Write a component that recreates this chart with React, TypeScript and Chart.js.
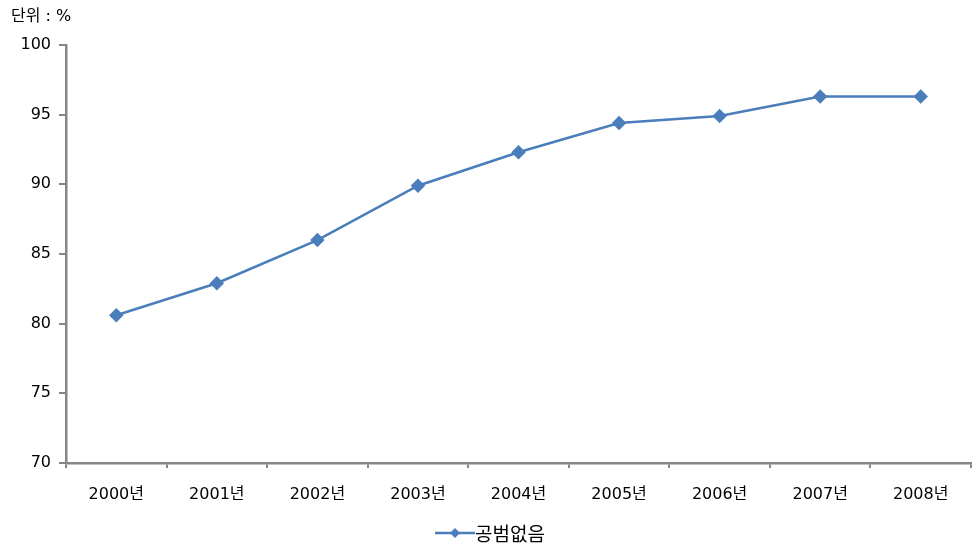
import React, { useEffect, useRef } from "react";
import { Chart, registerables } from "chart.js";
Chart.register(...registerables);

const years = ["2000년", "2001년", "2002년", "2003년", "2004년", "2005년", "2006년", "2007년", "2008년"];
const values = [80.6, 82.9, 86.0, 89.9, 92.3, 94.4, 94.9, 96.3, 96.3];
const seriesName = "공범없음";
const unitLabel = "단위 : %";

const FONT = "'DejaVu Sans', 'Noto Sans CJK KR', sans-serif";
const KFONT = "'Noto Sans CJK KR', sans-serif";
const LINE = "#4A7EBB";
const AXIS = "#868686";

const overlay = {
  id: "overlay",
  afterDraw(chart: any) {
    const ctx = chart.ctx;
    ctx.save();
    ctx.fillStyle = "#000";
    ctx.font = `16px ${FONT}`;
    ctx.textBaseline = "middle";
    ctx.textAlign = "left";
    ctx.fillText(unitLabel, 11, 17);
    // legend
    const cx = 455, cy = 533;
    ctx.strokeStyle = LINE;
    ctx.lineWidth = 2.5;
    ctx.beginPath();
    ctx.moveTo(cx - 20, cy);
    ctx.lineTo(cx + 20, cy);
    ctx.stroke();
    ctx.fillStyle = LINE;
    ctx.beginPath();
    ctx.moveTo(cx, cy - 5);
    ctx.lineTo(cx + 5, cy);
    ctx.lineTo(cx, cy + 5);
    ctx.lineTo(cx - 5, cy);
    ctx.closePath();
    ctx.fill();
    ctx.fillStyle = "#000";
    ctx.font = `19px ${KFONT}`;
    ctx.fillText(seriesName, cx + 20, cy + 1);
    ctx.restore();
  },
};

export default function App() {
  const ref = useRef<HTMLCanvasElement>(null);
  useEffect(() => {
    const chart = new Chart(ref.current!, {
      type: "line",
      data: {
        labels: years,
        datasets: [
          {
            label: seriesName,
            data: values,
            borderColor: LINE,
            backgroundColor: LINE,
            borderWidth: 2.5,
            pointStyle: "rectRot",
            pointRadius: 5.5,
            pointBackgroundColor: LINE,
            pointBorderColor: LINE,
            tension: 0,
          },
        ],
      },
      options: {
        animation: false,
        responsive: false,
        maintainAspectRatio: false,
        layout: { padding: { top: 45, right: 7, bottom: 0, left: 0 } },
        plugins: { legend: { display: false }, tooltip: { enabled: false }, title: { display: false } },
        scales: {
          x: {
            offset: true,
            afterFit: (s: any) => { s.height = 95; },
            border: { color: AXIS, width: 2.5 },
            grid: { offset: true, drawOnChartArea: false, color: AXIS, lineWidth: 2, tickLength: 5 },
            ticks: { color: "#000", font: { family: FONT, size: 16 }, padding: 17, maxRotation: 0 },
          },
          y: {
            min: 70,
            max: 100,
            afterFit: (s: any) => { s.width = 66; },
            border: { color: AXIS, width: 2.5 },
            grid: { drawOnChartArea: false, color: AXIS, lineWidth: 2, tickLength: 7 },
            ticks: { stepSize: 5, color: "#000", font: { family: FONT, size: 16 }, padding: 8 },
          },
        },
      },
      plugins: [overlay],
    });
    return () => chart.destroy();
  }, []);
  return (
    <div style={{ position: "fixed", left: 0, top: 0, width: 979, height: 558, background: "#fff" }}>
      <canvas ref={ref} width={979} height={558} style={{ width: 979, height: 558 }} />
    </div>
  );
}
